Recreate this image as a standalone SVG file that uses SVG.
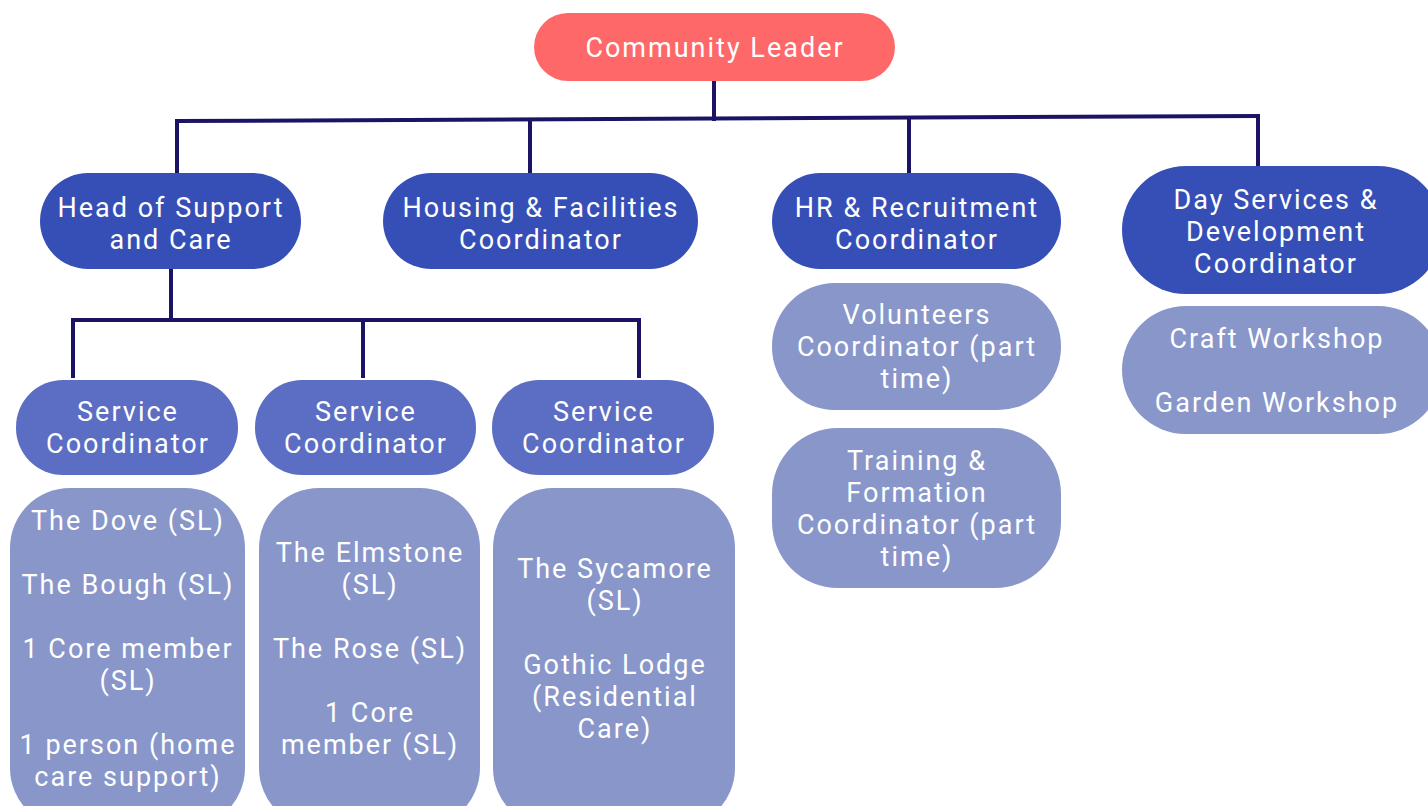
<svg xmlns="http://www.w3.org/2000/svg" width="1428" height="806" viewBox="0 0 1428 806">
<style>
.t{font-family:Roboto,"Noto Sans",sans-serif;font-size:27px;letter-spacing:2px;fill:#fff;text-anchor:middle}
.top{fill:#FF6868}
.l2{fill:#364FB6}
.sc{fill:#5B6EC4}
.lt{fill:#8896CA}
.c{stroke:#1B1464;stroke-width:4;fill:none}
</style>
<rect width="1428" height="806" fill="#fff"/>
<g id="connectors">
<path class="c" d="M714 81V121"/>
<path class="c" d="M177 121L1258 116"/>
<path class="c" d="M177 119V175"/>
<path class="c" d="M530 119V173"/>
<path class="c" d="M909 118V173"/>
<path class="c" d="M1258 114V166"/>
<path class="c" d="M171 269V320"/>
<path class="c" d="M71 320H641"/>
<path class="c" d="M73 318V378"/>
<path class="c" d="M363 318V378"/>
<path class="c" d="M639 318V378"/>
</g>
<g id="community-leader">
<rect class="top" x="534" y="13" width="361" height="68" rx="34"/>
<text class="t" x="715" y="57">Community Leader</text>
</g>
<g id="head-support">
<rect class="l2" x="40" y="173" width="261" height="96" rx="48"/>
<text class="t" x="171" y="217">Head of Support</text>
<text class="t" x="171" y="249">and Care</text>
</g>
<g id="housing">
<rect class="l2" x="383" y="173" width="315" height="96" rx="48"/>
<text class="t" x="541" y="217">Housing &amp; Facilities</text>
<text class="t" x="541" y="249">Coordinator</text>
</g>
<g id="hr">
<rect class="l2" x="772" y="173" width="289" height="96" rx="48"/>
<text class="t" x="917" y="217">HR &amp; Recruitment</text>
<text class="t" x="917" y="249">Coordinator</text>
</g>
<g id="day-services">
<rect class="l2" x="1122" y="166" width="320" height="128" rx="64"/>
<text class="t" x="1276" y="209">Day Services &amp;</text>
<text class="t" x="1276" y="241">Development</text>
<text class="t" x="1276" y="273">Coordinator</text>
</g>
<g id="sc1">
<rect class="sc" x="16" y="380" width="222" height="95" rx="47"/>
<text class="t" x="128" y="421">Service</text>
<text class="t" x="128" y="453">Coordinator</text>
</g>
<g id="sc2">
<rect class="sc" x="255" y="380" width="221" height="95" rx="47"/>
<text class="t" x="366" y="421">Service</text>
<text class="t" x="366" y="453">Coordinator</text>
</g>
<g id="sc3">
<rect class="sc" x="492" y="380" width="222" height="95" rx="47"/>
<text class="t" x="604" y="421">Service</text>
<text class="t" x="604" y="453">Coordinator</text>
</g>
<g id="homes1">
<rect class="lt" x="10" y="488" width="235" height="340" rx="60"/>
<text class="t" x="128" y="530">The Dove (SL)</text>
<text class="t" x="128" y="594">The Bough (SL)</text>
<text class="t" x="128" y="658">1 Core member</text>
<text class="t" x="128" y="690">(SL)</text>
<text class="t" x="128" y="754">1 person (home</text>
<text class="t" x="128" y="786">care support)</text>
</g>
<g id="homes2">
<rect class="lt" x="259" y="488" width="221" height="340" rx="60"/>
<text class="t" x="370" y="562">The Elmstone</text>
<text class="t" x="370" y="594">(SL)</text>
<text class="t" x="370" y="658">The Rose (SL)</text>
<text class="t" x="370" y="722">1 Core</text>
<text class="t" x="370" y="754">member (SL)</text>
</g>
<g id="homes3">
<rect class="lt" x="493" y="488" width="242" height="340" rx="60"/>
<text class="t" x="615" y="578">The Sycamore</text>
<text class="t" x="615" y="610">(SL)</text>
<text class="t" x="615" y="674">Gothic Lodge</text>
<text class="t" x="615" y="706">(Residential</text>
<text class="t" x="615" y="738">Care)</text>
</g>
<g id="volunteers">
<rect class="lt" x="772" y="283" width="289" height="127" rx="63"/>
<text class="t" x="917" y="324">Volunteers</text>
<text class="t" x="917" y="356">Coordinator (part</text>
<text class="t" x="917" y="388">time)</text>
</g>
<g id="training">
<rect class="lt" x="772" y="428" width="289" height="160" rx="66"/>
<text class="t" x="917" y="470">Training &amp;</text>
<text class="t" x="917" y="502">Formation</text>
<text class="t" x="917" y="534">Coordinator (part</text>
<text class="t" x="917" y="566">time)</text>
</g>
<g id="workshops">
<rect class="lt" x="1122" y="306" width="320" height="128" rx="64"/>
<text class="t" x="1277" y="348">Craft Workshop</text>
<text class="t" x="1277" y="412">Garden Workshop</text>
</g>
</svg>
